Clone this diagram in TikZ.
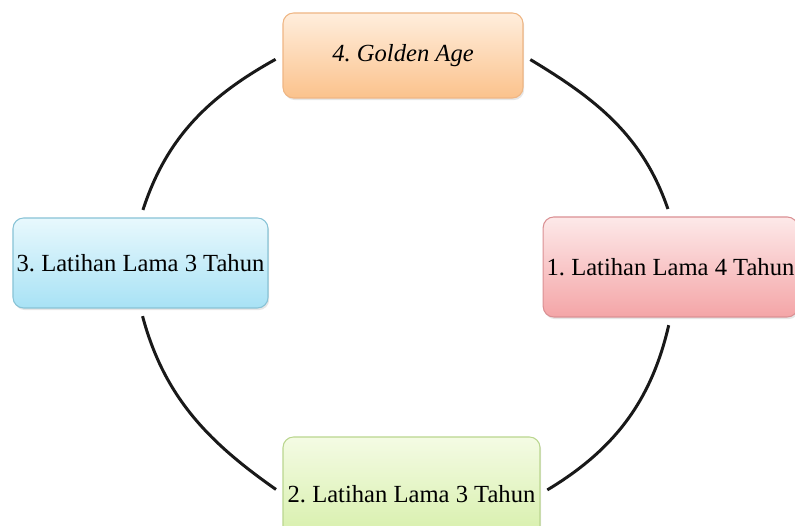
\documentclass[tikz,border=0pt]{standalone}
\usepackage{fontspec}
\setmainfont{Liberation Serif}
\usetikzlibrary{shadows}
\frenchspacing

\definecolor{peachtop}{HTML}{FFEEDD}
\definecolor{peachbot}{HTML}{FBC28C}
\definecolor{peachline}{HTML}{EFB684}
\definecolor{skytop}{HTML}{E8F8FD}
\definecolor{skybot}{HTML}{A8E2F5}
\definecolor{skyline}{HTML}{88C3D6}
\definecolor{rosetop}{HTML}{FDE9E9}
\definecolor{rosebot}{HTML}{F4A5A7}
\definecolor{roseline}{HTML}{DA9093}
\definecolor{limetop}{HTML}{F4FBE4}
\definecolor{limebot}{HTML}{D3EEA3}
\definecolor{limeline}{HTML}{BAD68F}

\begin{document}
\begin{tikzpicture}[thick,stage/.style={rectangle,rounded corners=6pt,line width=0.6pt,inner sep=2pt,font=\fontsize{14}{16}\selectfont,drop shadow={opacity=0.2,shadow xshift=0.7pt,shadow yshift=-1.2pt}},link/.style={line width=1.7pt,black!90,shorten <=4.5pt,shorten >=4.5pt}]
\useasboundingbox (0,0) rectangle (15.9,-10.52);

% the four stages
\node[stage,draw=roseline,top color=rosetop,bottom color=rosebot,minimum width=4.9cm,minimum height=2cm] (stage1) at (13.41,-5.34) {1. Latihan Lama 4 Tahun};
\node[stage,draw=limeline,top color=limetop,bottom color=limebot,minimum width=5.14cm,minimum height=2.28cm] (stage2) at (8.23,-9.88) {2. Latihan Lama 3 Tahun};
\node[stage,draw=skyline,top color=skytop,bottom color=skybot,minimum width=5.1cm,minimum height=1.8cm] (stage3) at (2.81,-5.26) {3. Latihan Lama 3 Tahun};
\node[stage,draw=peachline,top color=peachtop,bottom color=peachbot,minimum width=4.8cm,minimum height=1.7cm] (stage4) at (8.06,-1.11) {\textit{4. Golden Age}};

% cycle arcs
\draw[link] (stage1.south) to[out=257,in=31] (stage2.east);
\draw[link] (stage2.west) to[out=145,in=285] (stage3.south);
\draw[link] (stage3.north) to[out=72,in=209] (stage4.west);
\draw[link] (stage4.east) to[out=329,in=109] (stage1.north);
\end{tikzpicture}
\end{document}
